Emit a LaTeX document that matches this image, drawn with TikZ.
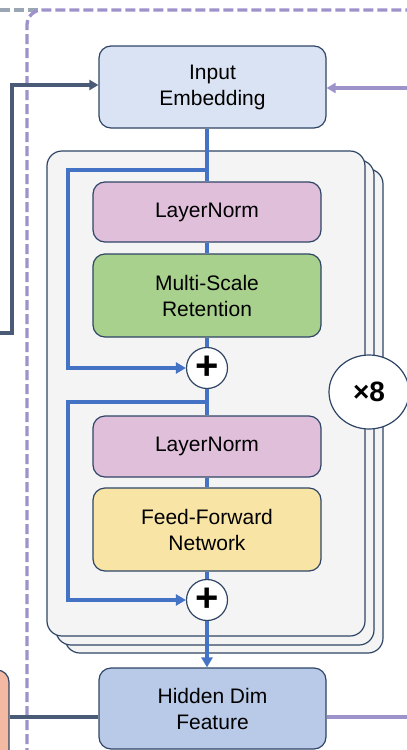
\documentclass[tikz,border=0pt]{standalone}
\usepackage{fontspec}
\setmainfont{Liberation Sans}
\usetikzlibrary{arrows.meta,positioning,shapes.geometric}

\definecolor{edgec}{HTML}{2F4566}
\definecolor{darkc}{HTML}{4A5B78}
\definecolor{resc}{HTML}{4472C4}
\definecolor{lavc}{HTML}{9D92C9}
\definecolor{greyc}{HTML}{9AA6B3}
\definecolor{embc}{HTML}{DAE3F3}
\definecolor{hidc}{HTML}{B8CAE8}
\definecolor{normc}{HTML}{E0BFDB}
\definecolor{retc}{HTML}{A9D18E}
\definecolor{ffnc}{HTML}{F8E5A6}
\definecolor{stackc}{HTML}{F4F4F4}
\definecolor{encc}{HTML}{F4B9A2}

\tikzset{
  blk/.style={draw=edgec, line width=1.2pt, rounded corners=12pt, align=center,
    font=\fontsize{21}{26}\selectfont, minimum width=228pt, inner sep=0pt},
  addop/.style={circle, draw=edgec, fill=white, line width=1.2pt, minimum size=41pt,
    inner sep=0pt, font=\fontsize{40}{40}\bfseries},
  layer/.style={draw=edgec, fill=stackc, line width=1.2pt, rounded corners=15pt},
  resid/.style={draw=resc, line width=3.5pt},
  tip/.style={-{Triangle[length=10pt,width=11pt]}},
  dashln/.style={line width=3.3pt, dash pattern=on 10pt off 4pt},
}

\begin{document}
\begin{tikzpicture}[x=1pt,y=-1pt]
\useasboundingbox (0,0) rectangle (407,750);
\clip (0,0) rectangle (407,750);
% dashed containers
\draw[greyc,dashln] (0,10) -- (40,10);
\draw[lavc,dashln,rounded corners=15pt] (27,800) -- (27,10) -- (450,10);
% stacked layers
\draw[layer] (65,169) rectangle (383,653);
\draw[layer] (56,160) rectangle (374,645);
\draw[layer] (47,151) rectangle (365,636);
\node[ellipse,draw=edgec,fill=white,line width=1.2pt,minimum width=80pt,minimum height=74pt,
  font=\fontsize{28}{28}\bfseries] (rep) at (369,392) {×8};
%
\node[blk,fill=embc,minimum width=227pt,minimum height=82pt] (emb) at (212.5,87) {Input\\Embedding};
\node[blk,fill=normc,minimum height=60pt] (ln1) at (207,212) {LayerNorm};
\node[blk,fill=retc,minimum height=83pt] (msr) at (207,295.5) {Multi-Scale\\Retention};
\node[addop] (add1) at (207,368) {+};
\node[blk,fill=normc,minimum height=61pt] (ln2) at (207,446.5) {LayerNorm};
\node[blk,fill=ffnc,minimum height=83pt] (ffn) at (207,529.5) {Feed-Forward\\Network};
\node[addop] (add2) at (207,600) {+};
\node[blk,fill=hidc,minimum width=227pt,minimum height=81pt] (hid) at (212.5,708.5) {Hidden Dim\\Feature};
\node[draw=edgec,fill=encc,line width=1.2pt,rounded corners=12pt,minimum width=80pt,minimum height=94pt,
  inner sep=0pt] (enc) at (-31,717) {};
%
\coordinate (br1) at (207,170);
\coordinate (br2) at (207,402);
\coordinate (lin) at (0,333);
\coordinate (rin) at (407,88);
\coordinate (rout) at (407,717);
% main path
\draw[resid] (emb.south -| ln1.north) -- (ln1.north);
\draw[resid] (ln1) -- (msr);
\draw[resid] (msr) -- (add1);
\draw[resid] (add1) -- (ln2);
\draw[resid] (ln2) -- (ffn);
\draw[resid] (ffn) -- (add2);
\draw[resid,tip] (add2.south) -- (add2.south |- hid.north);
% skip connections
\draw[resid,tip] (br1) -- ++(-139,0) |- (add1.west);
\draw[resid,tip] (br2) -- ++(-139,0) |- (add2.west);
% outer links
\draw[darkc,line width=3.4pt,-{Triangle[length=9pt,width=10pt]}] (lin) -- ++(12,0) |- ([yshift=2pt]emb.west);
\draw[lavc,line width=3.3pt,-{Triangle[length=9pt,width=10pt]}] (rin) -- (rin -| emb.east);
\draw[darkc,line width=3.4pt] (enc.east) -- (enc.east -| hid.west);
\draw[lavc,line width=3.3pt] (hid.east |- rout) -- (rout);
\end{tikzpicture}
\end{document}
